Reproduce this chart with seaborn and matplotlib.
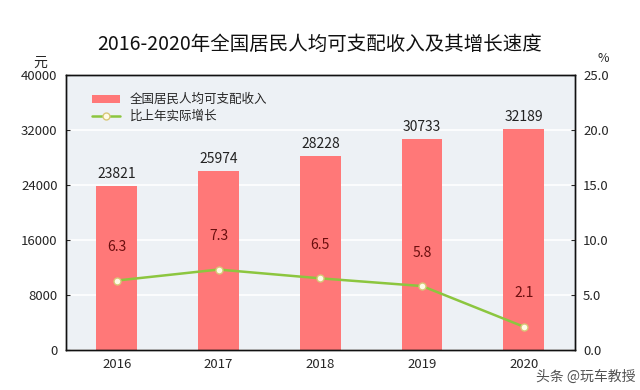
import seaborn as sns
import matplotlib.pyplot as plt
import pandas as pd

years = ['2016', '2017', '2018', '2019', '2020']
income = [23821, 25974, 28228, 30733, 32189]
growth = [6.3, 7.3, 6.5, 5.8, 2.1]
left_ticks = [0, 8000, 16000, 24000, 32000, 40000]
right_ticks = [0.0, 5.0, 10.0, 15.0, 20.0, 25.0]

df = pd.DataFrame({'year': years, 'income': income, 'growth': growth})

sns.set_style('white', {'axes.facecolor': '#edf1f5'})
plt.rcParams['font.family'] = ['Noto Sans CJK SC', 'DejaVu Sans']

fig = plt.figure(figsize=(6.4, 3.9), dpi=100)
ax = fig.add_axes([0.103, 0.103, 0.795, 0.705])

sns.barplot(data=df, x='year', y='income', color='#ff7878', saturation=1,
            width=0.4, ax=ax, linewidth=0, edgecolor='none', zorder=2)
ax.set_ylim(0, 40000)
ax.set_xlim(-0.5, 4.5)
ax.set_yticks(left_ticks)
ax.set_yticklabels([str(v) for v in left_ticks])
ax.yaxis.grid(True, color='white', linewidth=1.2, zorder=0)
ax.set_axisbelow(True)
ax.set_xlabel('')
ax.set_ylabel('')
for i, v in enumerate(income):
    ax.text(i, v + 700, str(v), ha='center', va='bottom', fontsize=10, color='#222222')

ax2 = ax.twinx()
ax2.plot(range(len(years)), growth, color='#8cc63f', linewidth=1.8,
         marker='o', markersize=5, markerfacecolor='#fffbe6',
         markeredgecolor='#d8c878', markeredgewidth=1, zorder=3)
ax2.set_ylim(0, 25)
ax2.set_yticks(right_ticks)
ax2.set_yticklabels([f'{v:.1f}' for v in right_ticks])
for i, v in enumerate(growth):
    ax2.annotate(f'{v}', (i, v), xytext=(0, 24), textcoords='offset points',
                 ha='center', va='center', fontsize=10, color='#6b0f0f')

# category boundary ticks on the x axis
ax.set_xticks([0.5, 1.5, 2.5, 3.5], minor=True)
ax.tick_params(axis='x', which='major', length=0, labelsize=9.5, pad=6)
ax.tick_params(axis='x', which='minor', direction='in', length=4, width=1)
ax.tick_params(axis='y', direction='in', length=3, labelsize=9.5, pad=6)
ax2.tick_params(axis='y', direction='in', length=3, labelsize=9.5, pad=6)

for a in (ax, ax2):
    for s in a.spines.values():
        s.set_visible(True)
        s.set_color('#111111')
        s.set_linewidth(1)

handles = [ax.patches[0], ax2.get_lines()[0]]
ax.legend(handles, ['全国居民人均可支配收入', '比上年实际增长'], loc='upper left',
          bbox_to_anchor=(0.03, 0.975), frameon=False, fontsize=9,
          handlelength=2.2, handleheight=0.6, labelspacing=0.3)

fig.text(0.5, 0.885, '2016-2020年全国居民人均可支配收入及其增长速度',
         ha='center', va='center', fontsize=14, color='#111111')
fig.text(0.063, 0.84, '元', ha='center', va='center', fontsize=10)
fig.text(0.942, 0.85, '%', ha='center', va='center', fontsize=9)
fig.text(0.915, 0.035, '头条 @玩车教授', ha='center', va='center', fontsize=10,
         color='#333333', alpha=0.85)

fig.savefig('out.png', dpi=100)
